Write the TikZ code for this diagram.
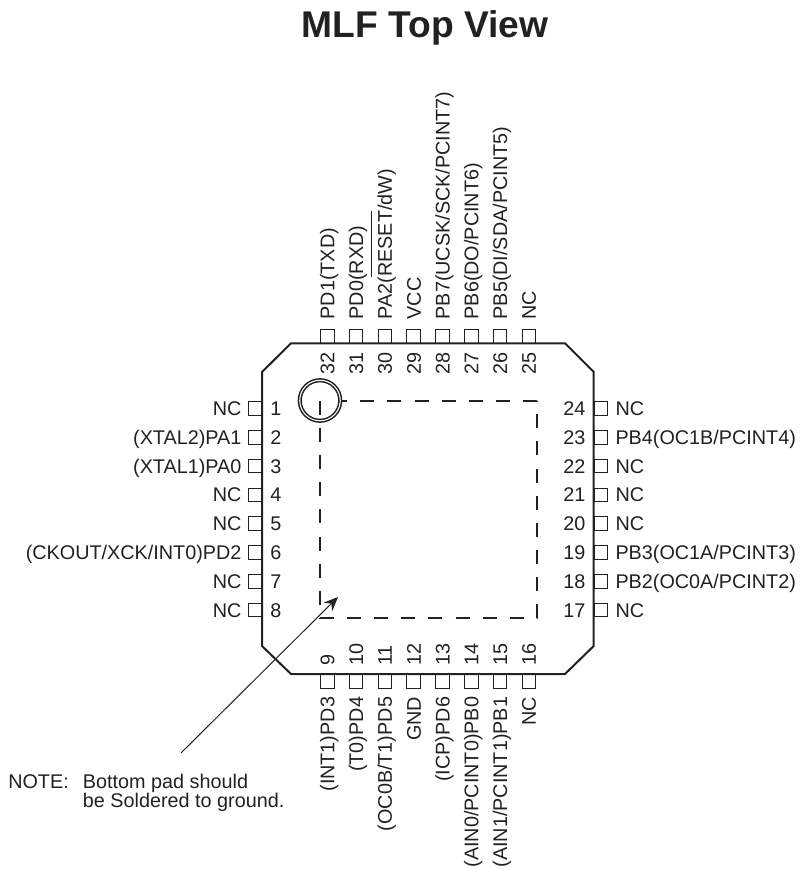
\documentclass[tikz,border=0pt]{standalone}
\usepackage{fontspec}
\usepackage{xcolor}
\usepackage{tikz}
\usetikzlibrary{positioning, arrows.meta}
\setmainfont{Liberation Sans}
\definecolor{inkgray}{gray}{0.13}
\newcommand{\barred}[1]{$\overline{\rule{0pt}{.93em}\mbox{#1}}$}
\tikzset{
    pad/.style={draw=inkgray, rectangle, line width=.75pt, minimum size=10.2pt, inner sep=0pt, outer sep=.35pt},
    pintext/.style={inner sep=0pt, text=inkgray, font=\fontsize{14.85}{16}\selectfont, text height=10.6pt, text depth=0pt},
    leftpin/.style 2 args={pad, label={[pintext, anchor=east, xshift=-4.4pt]left:{#1}}, label={[pintext, anchor=west, xshift=6pt]right:{#2}}},
    rightpin/.style 2 args={pad, label={[pintext, anchor=west, xshift=5.3pt]right:{#1}}, label={[pintext, anchor=east, xshift=-6pt]left:{#2}}},
    toppin/.style 2 args={pad, label={[pintext, yshift=7pt, rotate=90, anchor=west]above:{#1}}, label={[pintext, yshift=-6.5pt, rotate=90, anchor=east]below:{#2}}},
    bottompin/.style 2 args={pad, label={[pintext, yshift=-6pt, rotate=90, anchor=east]below:{#1}}, label={[pintext, yshift=6pt, rotate=90, anchor=west]above:{#2}}},
}
\begin{document}
\begin{tikzpicture}[x=.75pt, y=-.75pt, >={Stealth[length=10.5pt, width=9pt]}, node distance=10.7pt]
    \useasboundingbox (0,0) rectangle (806,869);

    % Title
    \node (title) [inner sep=0pt, text=inkgray, font=\fontsize{27.9}{30}\selectfont\bfseries] at (425,28) {MLF Top View};

    % Left pins
    \node (pin1) [leftpin={NC}{1}] at (254.8,408.5) {};
    \node (pin2) [leftpin={(XTAL2)PA1}{2}, below=of pin1] {};
    \node (pin3) [leftpin={(XTAL1)PA0}{3}, below=of pin2] {};
    \node (pin4) [leftpin={NC}{4}, below=of pin3] {};
    \node (pin5) [leftpin={NC}{5}, below=of pin4] {};
    \node (pin6) [leftpin={(CKOUT/XCK/INT0)PD2}{6}, below=of pin5] {};
    \node (pin7) [leftpin={NC}{7}, below=of pin6] {};
    \node (pin8) [leftpin={NC}{8}, below=of pin7] {};

    % Bottom pins
    \node (pin9) [bottompin={(INT1)PD3}{9}] at (327.3,681.4) {};
    \node (pin10) [bottompin={(T0)PD4}{10}, right=of pin9] {};
    \node (pin11) [bottompin={(OC0B/T1)PD5}{11}, right=of pin10] {};
    \node (pin12) [bottompin={GND}{12}, right=of pin11] {};
    \node (pin13) [bottompin={(ICP)PD6}{13}, right=of pin12] {};
    \node (pin14) [bottompin={(AIN0/PCINT0)PB0}{14}, right=of pin13] {};
    \node (pin15) [bottompin={(AIN1/PCINT1)PB1}{15}, right=of pin14] {};
    \node (pin16) [bottompin={NC}{16}, right=of pin15] {};

    % Right pins
    \node (pin24) [rightpin={NC}{24}] at (600.9,408.5) {};
    \node (pin23) [rightpin={PB4(OC1B/PCINT4)}{23}, below=of pin24] {};
    \node (pin22) [rightpin={NC}{22}, below=of pin23] {};
    \node (pin21) [rightpin={NC}{21}, below=of pin22] {};
    \node (pin20) [rightpin={NC}{20}, below=of pin21] {};
    \node (pin19) [rightpin={PB3(OC1A/PCINT3)}{19}, below=of pin20] {};
    \node (pin18) [rightpin={PB2(OC0A/PCINT2)}{18}, below=of pin19] {};
    \node (pin17) [rightpin={NC}{17}, below=of pin18] {};

    % Top pins
    \node (pin32) [toppin={PD1(TXD)}{32}] at (327.3,336.2) {};
    \node (pin31) [toppin={PD0(RXD)}{31}, right=of pin32] {};
    \node (pin30) [toppin={PA2(\barred{RESET}/dW)}{30}, right=of pin31] {};
    \node (pin29) [toppin={VCC}{29}, right=of pin30] {};
    \node (pin28) [toppin={PB7(UCSK/SCK/PCINT7)}{28}, right=of pin29] {};
    \node (pin27) [toppin={PB6(DO/PCINT6)}{27}, right=of pin28] {};
    \node (pin26) [toppin={PB5(DI/SDA/PCINT5)}{26}, right=of pin27] {};
    \node (pin25) [toppin={NC}{25}, right=of pin26] {};

    % Package outline
    \draw[draw=inkgray, line width=1.5pt] (291,343.3) -- (565,343.3) -- (593.7,372) -- (593.7,646) -- (565,674) -- (291,674) -- (262,646) -- (262,372) -- cycle;

    % Bottom pad and pin one mark
    \draw[draw=inkgray, line width=1.7pt, dash pattern=on 10.5pt off 9.84pt] (537,401) -- (320,401) -- (320,618) -- (537,618) -- cycle;
    \draw[draw=inkgray, fill=white, line width=1.15pt, double, double distance=.8pt] (320,400.5) circle (15.2pt);
    \draw[draw=inkgray, line width=1.7pt] (320,401) -- (320,415);

    % Note and arrow
    \node (notehead) [anchor=base west, inner sep=0pt, text=inkgray, font=\fontsize{14.85}{16}\selectfont] at (8,788) {NOTE:};
    \node (notebody) [anchor=base west, inner sep=0pt, text=inkgray, align=left, font=\fontsize{14.85}{14.6}\selectfont] at (82.7,807.7) {Bottom pad should\\be Soldered to ground.};
    \coordinate (notetail) at (181,753);
    \coordinate (padtip) at (338,597);
    \draw[->, draw=inkgray, line width=.75pt] (notetail) -- (padtip);
\end{tikzpicture}
\end{document}
